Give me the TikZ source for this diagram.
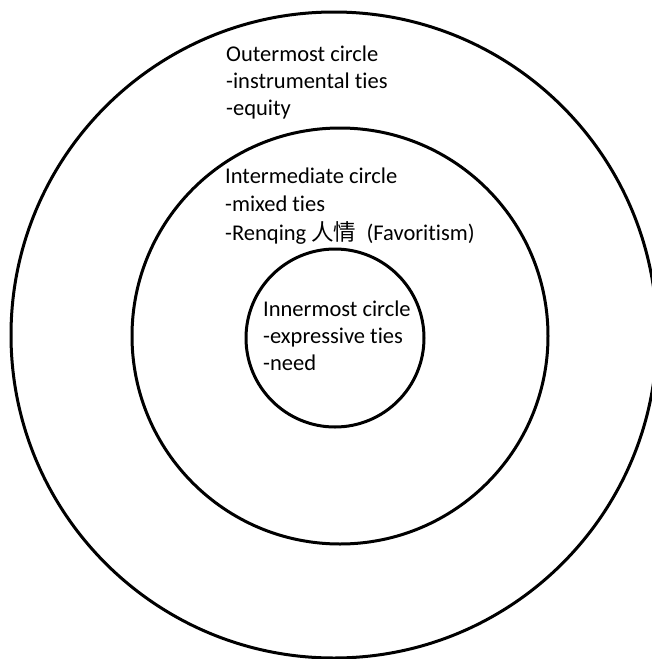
\documentclass[tikz,border=0pt]{standalone}
\usepackage{fontspec}
\setmainfont{Carlito}[Ligatures=NoCommon]
\newfontfamily\cjk{Noto Sans CJK SC}
\begin{document}
\begin{tikzpicture}[x=1pt,y=-1pt,
  ring/.style={draw=black,line width=3pt},
  label/.style={anchor=base west,inner sep=0pt,font=\fontsize{22.5}{27.5}\selectfont}]
\useasboundingbox (0,0) rectangle (652,659);
\clip (0,0) rectangle (652,659);
% three nested circles
\draw[ring] (334,335) circle[radius=323];
\draw[ring] (340,336) circle[radius=208];
\draw[ring] (335,338) circle[radius=89];
% labels, one per circle
\node[label] (outer) at (226,61)
  {\vtop{\baselineskip=27pt\hbox{Outermost circle}\hbox{-instrumental ties}\hbox{-equity}}};
\node[label] (middle) at (225,183)
  {\vtop{\baselineskip=28.5pt\hbox{Intermediate circle}\hbox{-mixed ties}\hbox{-Renqing {\cjk 人情}\ \ (Favoritism)}}};
\node[label] (inner) at (263,316)
  {\vtop{\baselineskip=27pt\hbox{Innermost circle}\hbox{-expressive ties}\hbox{-need}}};
\end{tikzpicture}
\end{document}
